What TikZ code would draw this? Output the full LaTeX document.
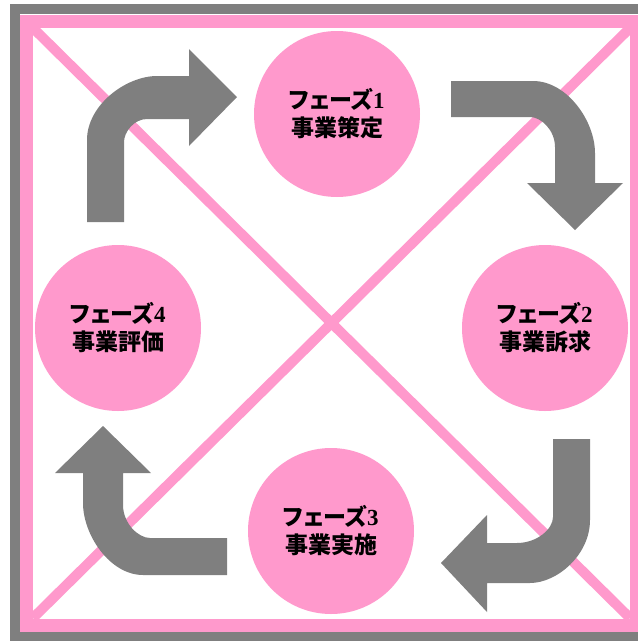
\documentclass[tikz,border=0pt]{standalone}
\usepackage{fontspec}
\newfontfamily\jp{Noto Sans CJK JP}
\newfontfamily\jpp[RawFeature=+palt]{Noto Sans CJK JP}
\newfontfamily\dg{Liberation Serif}
\definecolor{pk}{HTML}{FF99CC}
\definecolor{gr}{HTML}{7F7F7F}
\tikzset{
  phase/.style={circle, fill=pk, minimum size=166pt, inner sep=0pt, align=center,
    font=\jp\bfseries\fontsize{23}{28}\selectfont},
  barrow/.style={fill=gr, draw=none},
}
\newcommand{\phz}[2]{{\jpp\bfseries フェーズ}{\dg\bfseries #1}\\#2}
\begin{document}
\begin{tikzpicture}[x=1pt,y=-1pt]
\useasboundingbox (0,0) rectangle (638,641);
\begin{scope}
\clip (0,0) rectangle (638,641);
% diagonals
\draw[pk, line width=10pt] (33,28) -- (630,618);
\draw[pk, line width=10pt] (630,28) -- (33,618);
% frames
\draw[gr, line width=10pt] (15,9) rectangle (660,637);
\draw[pk, line width=13pt] (26.5,21) rectangle (636.5,625);
\end{scope}
% arrows
\fill[barrow] (87,222) -- (87,140) .. controls (87,105) and (126,76) .. (157,76) -- (189,76) -- (189,49) -- (237,97) -- (189,146) -- (189,119) -- (147,119) .. controls (134,119) and (124,132) .. (124,142) -- (124,222) -- cycle;
\fill[barrow] (451,81) -- (533,81) .. controls (567,81) and (595,121) .. (595,153) -- (595,183) -- (623,183) -- (575,230) -- (527,183) -- (555,183) -- (555,147) .. controls (555,130) and (541,117) .. (530,117) -- (451,117) -- cycle;
\fill[barrow] (553,439) -- (590,439) -- (590,520) .. controls (590,555) and (557,583) .. (530,583) -- (487,583) -- (487,612) -- (441,563) -- (487,515) -- (487,543) -- (517,543) .. controls (537,543) and (553,529) .. (553,517) -- cycle;
\fill[barrow] (227,538) -- (227,575) -- (143,575) .. controls (110,575) and (83,535) .. (83,503) -- (83,473) -- (55,473) -- (103,426) -- (151,473) -- (123,473) -- (123,505) .. controls (123,523) and (138,538) .. (150,538) -- cycle;
% phases
\node[phase] (p1) at (337,114) {\phz{1}{事業策定}};
\node[phase] (p2) at (545,328) {\phz{2}{事業訴求}};
\node[phase] (p3) at (331,531) {\phz{3}{事業実施}};
\node[phase] (p4) at (118,328) {\phz{4}{事業評価}};
\end{tikzpicture}
\end{document}
